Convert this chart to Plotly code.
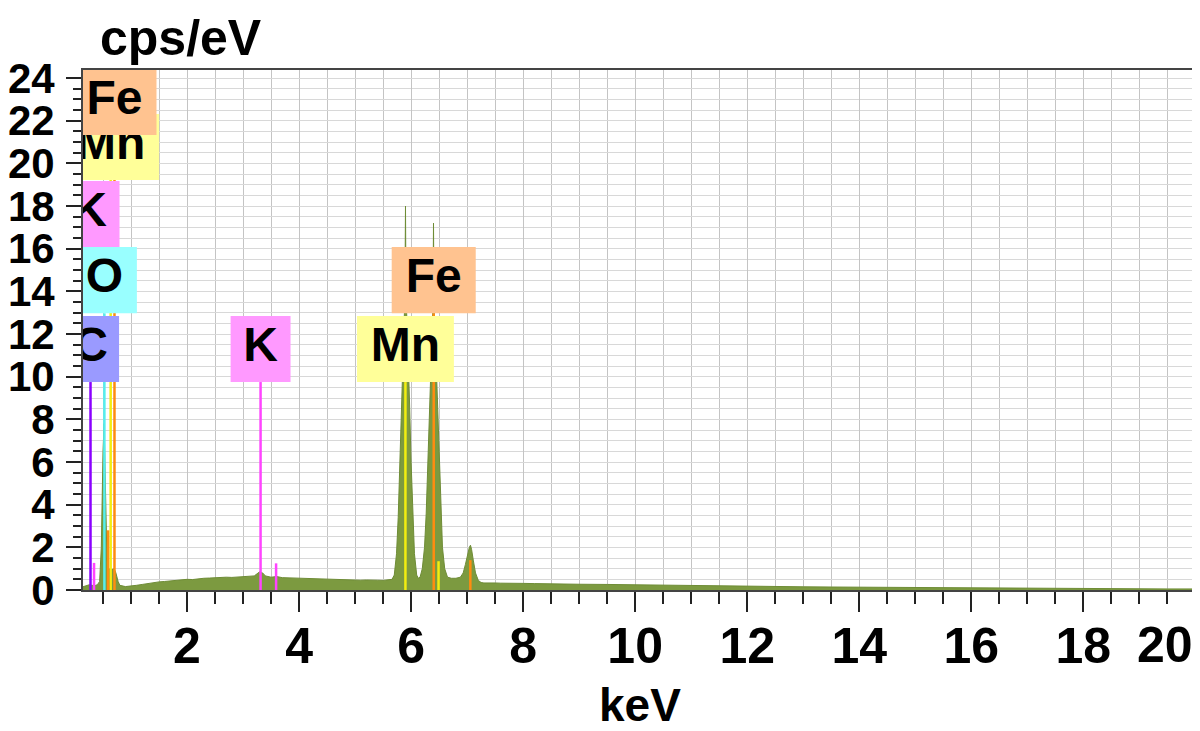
import plotly.graph_objects as go

# ---------------- data ----------------
energy_keV = [0.14, 0.20, 0.26, 0.30, 0.35, 0.40, 0.44, 0.47, 0.48, 0.50, 0.52, 0.535, 0.55, 0.57,
              0.60, 0.65, 0.70, 0.73, 0.77, 0.80, 0.90, 1.00, 1.10, 1.20, 1.30, 1.40, 1.50, 1.60,
              1.70, 1.80, 1.90, 2.00, 2.10, 2.20, 2.30, 2.40, 2.50, 2.60, 2.70, 2.80, 2.90, 3.00,
              3.10, 3.20, 3.25, 3.30, 3.35, 3.40, 3.50, 3.60, 3.70, 3.80, 3.90, 4.00, 4.10, 4.20,
              4.30, 4.40, 4.50, 4.60, 4.70, 4.80, 4.90, 5.00, 5.10, 5.20, 5.30, 5.40, 5.50, 5.60,
              5.66, 5.70, 5.74, 5.77, 5.80, 5.83, 5.85, 5.87, 5.89, 5.90, 5.91, 5.93, 5.95, 5.97,
              6.00, 6.03, 6.06, 6.10, 6.13, 6.16, 6.20, 6.24, 6.27, 6.30, 6.33, 6.35, 6.37, 6.39,
              6.40, 6.41, 6.43, 6.45, 6.47, 6.50, 6.53, 6.56, 6.60, 6.65, 6.72, 6.80, 6.88, 6.93,
              6.97, 7.01, 7.04, 7.06, 7.08, 7.11, 7.15, 7.20, 7.25, 7.30, 7.40, 7.50, 7.60, 7.80,
              8.00, 8.20, 8.40, 8.60, 8.80, 9.00, 9.50, 10.0, 10.5, 11.0, 11.5, 12.0, 12.5, 13.0,
              13.5, 14.0, 14.5, 15.0, 15.5, 16.0, 16.5, 17.0, 17.5, 18.0, 18.5, 19.0, 19.5, 20.0]
counts_cps_eV = [0.15, 0.20, 0.25, 0.22, 0.20, 0.25, 0.40, 2.00, 4.40, 6.50, 7.80, 6.00, 3.50, 1.50,
                 1.00, 0.95, 1.00, 0.80, 0.40, 0.22, 0.16, 0.18, 0.22, 0.26, 0.31, 0.33, 0.38, 0.40,
                 0.43, 0.45, 0.47, 0.50, 0.49, 0.53, 0.55, 0.56, 0.58, 0.57, 0.60, 0.59, 0.61, 0.60,
                 0.62, 0.66, 0.76, 0.86, 0.80, 0.66, 0.60, 0.63, 0.58, 0.57, 0.58, 0.55, 0.56, 0.53,
                 0.54, 0.51, 0.52, 0.50, 0.49, 0.50, 0.47, 0.48, 0.46, 0.47, 0.45, 0.46, 0.45, 0.47,
                 0.50, 0.70, 1.70, 3.40, 6.00, 9.00, 10.8, 12.3, 13.8, 18.0, 13.8, 12.3, 10.8, 9.00,
                 6.00, 3.40, 1.70, 0.70, 0.55, 0.60, 1.00, 2.00, 3.60, 6.00, 8.80, 10.5, 12.0, 13.3,
                 17.2, 13.3, 12.0, 10.5, 8.80, 6.20, 3.80, 2.00, 1.00, 0.60, 0.55, 0.55, 0.60, 0.80,
                 1.20, 1.70, 2.00, 2.10, 1.90, 1.40, 0.80, 0.45, 0.35, 0.33, 0.34, 0.33, 0.32, 0.33,
                 0.31, 0.30, 0.30, 0.29, 0.28, 0.27, 0.26, 0.24, 0.22, 0.20, 0.19, 0.17, 0.16, 0.15,
                 0.14, 0.13, 0.12, 0.11, 0.10, 0.10, 0.09, 0.08, 0.08, 0.07, 0.06, 0.06, 0.05, 0.05]

# element marker lines: element, line energy (keV), top of marker (cps/eV)
line_element = ["C", "O", "K", "K", "K", "Mn", "Mn", "Mn", "Fe", "Fe", "Fe", "Fe"]
line_energy = [0.277, 0.525, 0.34, 3.313, 3.59, 0.637, 5.899, 6.49, 0.59, 0.705, 6.404, 7.058]
line_top = [9.75, 12.98, 1.27, 9.75, 1.25, 19.22, 9.75, 1.35, 2.8, 21.33, 12.98, 1.4]

# element labels: text, energy (keV) at which the label is centred, bottom of label box
label_text = ["C", "O", "K", "Mn", "Fe", "K", "Mn", "Fe"]
label_energy = [0.277, 0.525, 0.26, 0.637, 0.705, 3.313, 5.899, 6.404]
label_bottom = [9.75, 12.98, 16.08, 19.22, 21.33, 9.75, 9.75, 12.98]

x_ticks = [2, 4, 6, 8, 10, 12, 14, 16, 18, 20]
y_ticks = [0, 2, 4, 6, 8, 10, 12, 14, 16, 18, 20, 22, 24]

# ---------------- styles ----------------
FONT = "Liberation Sans, Arial, sans-serif"
line_color = {"C": "#8a00ff", "O": "#55eeee", "K": "#ff44ff", "Mn": "#f2ee10", "Fe": "#ff8c10"}
box_color = {"C": "#9a9aff", "O": "#99ffff", "K": "#ff99ff", "Mn": "#ffff99", "Fe": "#ffc390"}
box_width = {"C": 1.02, "O": 1.16, "K": 1.07, "Mn": 1.73, "Fe": 1.5}
BOX_H = 3.1

fig = go.Figure()

# spectrum
fig.add_trace(go.Scatter(x=energy_keV, y=counts_cps_eV, mode="lines", fill="tozeroy",
                         fillcolor="#7c9a40", line=dict(color="#6e8c36", width=1),
                         hoverinfo="skip"))

# marker lines
for el, e, top in zip(line_element, line_energy, line_top):
    fig.add_trace(go.Scatter(x=[e, e], y=[0, top], mode="lines",
                             line=dict(color=line_color[el], width=2.5), hoverinfo="skip"))

# label boxes + text
for txt, e, b in zip(label_text, label_energy, label_bottom):
    w = box_width[txt] / 2
    fig.add_trace(go.Scatter(x=[e - w, e + w, e + w, e - w, e - w],
                             y=[b, b, b + BOX_H, b + BOX_H, b],
                             mode="lines", fill="toself", fillcolor=box_color[txt],
                             line=dict(width=0, color=box_color[txt]), hoverinfo="skip"))
    fig.add_trace(go.Scatter(x=[e], y=[b + BOX_H / 2], mode="text", text=[txt],
                             textposition="middle center", cliponaxis=True,
                             textfont=dict(family=FONT, size=48, color="black", weight="bold"),
                             hoverinfo="skip"))

axis_common = dict(showline=True, linecolor="#444", linewidth=2, mirror=True,
                   ticks="outside", tickwidth=2, tickcolor="#222", zeroline=False,
                   showgrid=True, automargin=False)

fig.update_xaxes(range=[0.143, 20.03], tickmode="array", tickvals=x_ticks,
                 ticktext=[str(v) if v != 20 else "" for v in x_ticks],
                 ticklen=20, gridcolor="#c4c4c4", gridwidth=1,
                 minor=dict(tick0=0, dtick=0.5, ticks="outside", ticklen=12, tickwidth=2,
                            tickcolor="#222", showgrid=True, gridcolor="#c4c4c4", gridwidth=1),
                 tickfont=dict(family=FONT, size=50, color="black", weight="bold"),
                 ticklabelstandoff=-9, **axis_common)
fig.update_yaxes(range=[0, 24.38], tickmode="array", tickvals=y_ticks,
                 ticktext=[str(v) for v in y_ticks],
                 ticklen=15, gridcolor="#d8d8d8", gridwidth=1,
                 minor=dict(tick0=0, dtick=0.5, ticks="outside", ticklen=8, tickwidth=2,
                            tickcolor="#222", showgrid=True, gridcolor="#d8d8d8", gridwidth=1),
                 tickfont=dict(family=FONT, size=42, color="black", weight="bold"),
                 ticklabelstandoff=3, **axis_common)

# the page body adds an 8 px offset, so the figure is 8 px smaller and margins shifted
fig.update_layout(
    width=1192, height=723, margin=dict(l=75, r=3, t=62, b=141),
    plot_bgcolor="white", paper_bgcolor="white", showlegend=False,
    annotations=[
        dict(text="cps/eV", xref="paper", yref="paper", x=0.0135, y=1.0625,
             xanchor="left", yanchor="middle", showarrow=False,
             font=dict(family=FONT, size=50, color="black", weight="bold")),
        dict(text="keV", xref="paper", yref="paper", x=0.5, y=-0.222,
             xanchor="center", yanchor="middle", showarrow=False,
             font=dict(family=FONT, size=46, color="black", weight="bold")),
        dict(text=str(x_ticks[-1]), xref="x", yref="paper", x=x_ticks[-1], y=-0.106,
             xanchor="right", yanchor="middle", showarrow=False,
             font=dict(family=FONT, size=50, color="black", weight="bold")),
    ],
)

fig.write_html("out.html")
